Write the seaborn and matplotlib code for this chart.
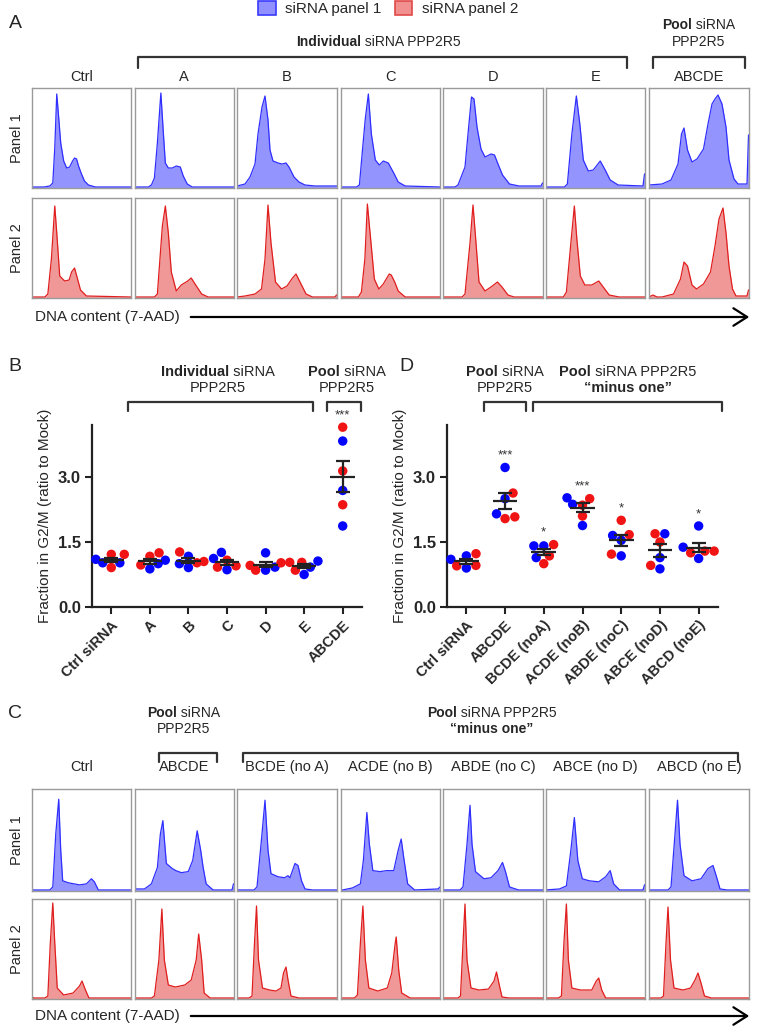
import pandas as pd
import seaborn as sns
import matplotlib
matplotlib.use('Agg')
import matplotlib.pyplot as plt
from matplotlib.lines import Line2D
from matplotlib.patches import Patch, FancyArrowPatch

W, H = 760, 1030

# ---------------- data ----------------
A_LABELS = ['Ctrl', 'A', 'B', 'C', 'D', 'E', 'ABCDE']
C_LABELS = ['Ctrl', 'ABCDE', 'BCDE (no A)', 'ACDE (no B)', 'ABDE (no C)',
            'ABCE (no D)', 'ABCD (no E)']

# histogram outlines: (position in box 0-1, height % of box)
A_PANEL1 = [
    [(0, 1), (0.12, 1), (0.18, 2), (0.21, 5), (0.23, 40), (0.25, 94), (0.27, 70), (0.29, 45), (0.32, 27),
     (0.35, 20), (0.38, 21), (0.41, 27), (0.43, 30), (0.45, 29), (0.47, 22), (0.50, 14), (0.53, 7),
     (0.57, 3), (0.64, 1), (1, 1)],
    [(0, 1), (0.14, 1), (0.17, 3), (0.2, 10), (0.23, 45), (0.265, 95), (0.29, 55), (0.31, 25), (0.34, 20),
     (0.38, 20), (0.42, 22), (0.46, 21), (0.49, 12), (0.53, 4), (0.58, 1), (1, 1)],
    [(0, 2), (0.08, 4), (0.13, 11), (0.18, 24), (0.21, 54), (0.25, 81), (0.28, 92), (0.31, 68), (0.33, 38),
     (0.36, 27), (0.41, 25), (0.45, 24), (0.49, 25), (0.52, 21), (0.57, 11), (0.62, 6), (0.68, 3),
     (0.78, 2), (1, 2)],
    [(0, 1), (0.16, 1), (0.19, 3), (0.22, 37), (0.25, 70), (0.28, 94), (0.31, 54), (0.35, 28), (0.39, 23),
     (0.43, 27), (0.48, 25), (0.535, 15), (0.58, 6), (0.65, 2), (1, 1)],
    [(0, 1), (0.12, 1), (0.15, 3), (0.22, 21), (0.25, 54), (0.285, 91), (0.31, 89), (0.34, 61), (0.38, 39),
     (0.42, 31), (0.48, 34), (0.515, 33), (0.55, 24), (0.595, 13), (0.665, 4), (0.76, 2), (0.98, 2),
     (0.995, 5), (1, 5)],
    [(0, 1), (0.19, 1), (0.22, 4), (0.265, 54), (0.31, 92), (0.345, 64), (0.38, 28), (0.43, 17), (0.48, 18),
     (0.55, 27), (0.60, 18), (0.65, 8), (0.73, 3), (0.98, 2), (0.995, 14), (1, 14)],
    [(0, 3), (0.13, 4), (0.22, 8), (0.29, 24), (0.325, 54), (0.35, 60), (0.385, 38), (0.43, 26), (0.48, 29),
     (0.545, 39), (0.59, 64), (0.63, 84), (0.66, 89), (0.69, 93), (0.73, 84), (0.77, 61), (0.80, 28),
     (0.85, 9), (0.89, 4), (0.98, 4), (0.995, 53), (1, 53)],
]
A_PANEL2 = [
    [(0, 1), (0.13, 1), (0.16, 4), (0.196, 39), (0.23, 92), (0.25, 65), (0.28, 22), (0.33, 17), (0.375, 18),
     (0.40, 26), (0.43, 30), (0.46, 19), (0.49, 8), (0.55, 2), (1, 1)],
    [(0, 1), (0.20, 1), (0.23, 4), (0.28, 72), (0.31, 92), (0.34, 65), (0.37, 26), (0.42, 7), (0.47, 13),
     (0.535, 17), (0.57, 20), (0.615, 13), (0.675, 4), (0.74, 1), (1, 1)],
    [(0, 1), (0.08, 2), (0.18, 4), (0.245, 9), (0.28, 39), (0.31, 93), (0.34, 55), (0.385, 16), (0.445, 9),
     (0.5, 12), (0.555, 20), (0.59, 24), (0.64, 14), (0.69, 4), (0.755, 1), (0.98, 1), (0.995, 3), (1, 3)],
    [(0, 1), (0.18, 1), (0.21, 6), (0.245, 39), (0.27, 94), (0.30, 62), (0.34, 19), (0.385, 9), (0.43, 14),
     (0.49, 24), (0.51, 23), (0.545, 16), (0.58, 7), (0.65, 1), (1, 1)],
    [(0, 1), (0.19, 1), (0.22, 4), (0.27, 55), (0.30, 93), (0.33, 55), (0.36, 16), (0.42, 7), (0.48, 11),
     (0.545, 16), (0.59, 11), (0.65, 3), (0.71, 1), (1, 1)],
    [(0, 1), (0.18, 1), (0.21, 6), (0.255, 55), (0.29, 92), (0.315, 59), (0.35, 22), (0.395, 13),
     (0.465, 13), (0.535, 17), (0.58, 11), (0.64, 3), (0.74, 1), (1, 1)],
    [(0, 1), (0.04, 3), (0.08, 1), (0.13, 1), (0.245, 4), (0.315, 19), (0.35, 36), (0.385, 32), (0.43, 13),
     (0.475, 9), (0.545, 14), (0.615, 26), (0.66, 52), (0.70, 79), (0.74, 90), (0.77, 65), (0.80, 32),
     (0.835, 9), (0.87, 2), (0.98, 2), (0.995, 8), (1, 8)],
]
C_PANEL1 = [
    [(0, 1), (0.18, 1), (0.21, 4), (0.24, 56), (0.27, 90), (0.29, 40), (0.31, 10), (0.37, 8), (0.48, 6),
     (0.55, 7), (0.60, 12), (0.63, 9), (0.67, 1), (1, 1)],
    [(0, 45), (0.01, 2), (0.1, 2), (0.17, 7), (0.23, 23), (0.26, 56), (0.285, 69), (0.32, 27), (0.38, 22),
     (0.415, 20), (0.47, 18), (0.54, 19), (0.585, 30), (0.63, 59), (0.665, 40), (0.69, 23), (0.72, 7),
     (0.79, 1), (0.98, 1), (0.995, 7), (1, 7)],
    [(0, 1), (0.17, 1), (0.2, 4), (0.25, 56), (0.28, 89), (0.31, 40), (0.34, 17), (0.41, 14), (0.475, 13),
     (0.51, 15), (0.53, 13), (0.58, 27), (0.61, 25), (0.645, 10), (0.68, 2), (0.755, 1), (1, 1)],
    [(0, 1), (0.02, 1), (0.12, 3), (0.20, 7), (0.23, 30), (0.265, 77), (0.29, 46), (0.325, 20), (0.395, 19),
     (0.465, 20), (0.535, 20), (0.58, 40), (0.61, 51), (0.635, 33), (0.675, 7), (0.745, 1), (0.98, 2),
     (1, 4)],
    [(0, 1), (0.17, 1), (0.2, 4), (0.24, 46), (0.27, 84), (0.29, 46), (0.325, 19), (0.41, 12), (0.48, 13),
     (0.55, 20), (0.595, 28), (0.625, 19), (0.665, 4), (0.755, 1), (1, 1)],
    [(0, 1), (0.14, 2), (0.21, 5), (0.255, 40), (0.29, 72), (0.325, 30), (0.37, 12), (0.44, 10), (0.535, 9),
     (0.605, 14), (0.65, 20), (0.685, 7), (0.745, 1), (0.98, 1), (0.995, 6), (1, 6)],
    [(0, 1), (0.19, 1), (0.22, 4), (0.26, 56), (0.285, 89), (0.31, 46), (0.35, 15), (0.43, 10), (0.52, 12),
     (0.59, 22), (0.64, 25), (0.675, 14), (0.71, 2), (0.78, 1), (1, 1)],
]
C_PANEL2 = [
    [(0, 2), (0.02, 1), (0.13, 1), (0.16, 3), (0.185, 56), (0.21, 96), (0.23, 56), (0.255, 11), (0.32, 4),
     (0.415, 6), (0.48, 13), (0.505, 18), (0.54, 9), (0.575, 1), (1, 1)],
    [(0, 1), (0.17, 1), (0.2, 3), (0.245, 39), (0.275, 90), (0.30, 39), (0.34, 14), (0.41, 12), (0.505, 14),
     (0.57, 19), (0.62, 39), (0.645, 65), (0.675, 39), (0.70, 6), (0.76, 1), (1, 1)],
    [(0, 1), (0.12, 1), (0.15, 3), (0.175, 56), (0.195, 93), (0.215, 39), (0.255, 11), (0.325, 9), (0.39, 8),
     (0.44, 11), (0.465, 26), (0.49, 32), (0.51, 19), (0.54, 3), (0.62, 1), (1, 1)],
    [(0, 1), (0.14, 1), (0.17, 4), (0.20, 56), (0.225, 93), (0.25, 39), (0.285, 11), (0.375, 8), (0.47, 11),
     (0.515, 26), (0.55, 56), (0.56, 62), (0.585, 29), (0.615, 6), (0.70, 1), (1, 1)],
    [(0, 1), (0.15, 1), (0.175, 3), (0.20, 56), (0.22, 95), (0.24, 39), (0.28, 11), (0.36, 9), (0.455, 10),
     (0.51, 18), (0.535, 27), (0.565, 13), (0.59, 2), (0.66, 1), (1, 1)],
    [(0, 1), (0.13, 1), (0.16, 3), (0.185, 56), (0.21, 95), (0.23, 39), (0.265, 11), (0.35, 9), (0.465, 9),
     (0.51, 18), (0.535, 21), (0.565, 9), (0.605, 1), (1, 1)],
    [(0, 1), (0.12, 1), (0.145, 3), (0.17, 56), (0.19, 92), (0.215, 39), (0.25, 11), (0.34, 9), (0.415, 11),
     (0.46, 19), (0.49, 26), (0.52, 16), (0.555, 3), (0.625, 1), (1, 1)],
]

# fraction in G2/M, ratio to mock (3 replicates per siRNA panel)
B_CONDS = ['Ctrl siRNA', 'A', 'B', 'C', 'D', 'E', 'ABCDE']
B_BLUE = [[1.02, 1.02, 1.10], [0.88, 1.00, 1.08], [1.17, 0.91, 1.00], [1.12, 1.26, 0.86],
          [1.25, 0.85, 0.92], [1.06, 0.75, 0.92], [3.83, 2.69, 1.87]]
B_RED = [[1.215, 0.91, 1.215], [1.17, 1.25, 0.97], [1.27, 1.02, 1.05], [0.92, 1.08, 0.95],
         [1.02, 0.85, 0.96], [1.03, 1.03, 0.85], [4.15, 3.14, 2.36]]
B_STARS = ['', '', '', '', '', '', '***']

D_CONDS = ['Ctrl siRNA', 'ABCDE', 'BCDE (noA)', 'ACDE (noB)', 'ABDE (noC)', 'ABCE (noD)', 'ABCD (noE)']
D_BLUE = [[1.18, 1.10, 0.90], [3.22, 2.50, 2.15], [1.41, 1.41, 1.14], [2.52, 2.37, 1.88],
          [1.65, 1.54, 1.18], [1.69, 1.14, 0.88], [1.87, 1.38, 1.12]]
D_RED = [[1.23, 0.96, 0.95], [2.63, 2.04, 2.08], [1.44, 1.18, 1.00], [2.50, 2.35, 2.10],
         [2.00, 1.67, 1.22], [1.69, 0.96, 1.50], [1.29, 1.29, 1.25]]
D_STARS = ['', '***', '*', '***', '*', '', '*']

# ---------------- style ----------------
BLUE_FILL, BLUE_EDGE = '#9494ff', '#2f2fff'
RED_FILL, RED_EDGE = '#f09898', '#e01e1e'
DOT_BLUE, DOT_RED = '#0505ff', '#f01414'
INK = '#222222'

sns.set_style('white')
plt.rcParams['font.family'] = ['Liberation Sans', 'DejaVu Sans']

fig = plt.figure(figsize=(W / 100, H / 100), dpi=100)
renderer = fig.canvas.get_renderer()

COL_X = [(32, 131), (134.5, 234), (237, 337), (340.5, 440), (443, 543), (545.5, 645), (649, 749)]


def fx(x):
    return x / W


def fy(y):
    return 1 - y / H


def px_axes(x0, y0, x1, y1):
    return fig.add_axes([fx(x0), fy(y1), (x1 - x0) / W, (y1 - y0) / H])


def label(x, y, s, size=10.5, **kw):
    kw.setdefault('ha', 'center')
    kw.setdefault('va', 'center')
    return fig.text(fx(x), fy(y), s, fontsize=size, **kw)


def rich(xc, y, parts, size=10):
    texts = [fig.text(0, fy(y), s, fontsize=size, fontweight=w, ha='left', va='center')
             for s, w in parts]
    widths = [t.get_window_extent(renderer).width for t in texts]
    x = xc - sum(widths) / 2
    for t, wd in zip(texts, widths):
        t.set_x(fx(x))
        x += wd


def bracket(x0, x1, ytop, ybot):
    fig.add_artist(Line2D([fx(x0), fx(x0), fx(x1), fx(x1)], [fy(ybot), fy(ytop), fy(ytop), fy(ybot)],
                          transform=fig.transFigure, color='#333333', lw=1.6))


def dna_arrow(y):
    label(35, y, 'DNA content (7-AAD)', size=11, ha='left')
    fig.add_artist(FancyArrowPatch((fx(188), fy(y)), (fx(752), fy(y)), transform=fig.transFigure,
                                   arrowstyle='->,head_length=0.55,head_width=0.35', mutation_scale=18,
                                   lw=1.6, color='black'))


def draw_hist(ax, knots, fill, edge):
    xs = [k[0] for k in knots]
    ys = [k[1] for k in knots]
    ax.fill_between(xs, ys, 0, color=fill, lw=0)
    sns.lineplot(x=xs, y=ys, ax=ax, color=edge, lw=0.9, estimator=None, sort=False)
    ax.set_xlim(0, 1)
    ax.set_ylim(0, 100)
    ax.set_xticks([])
    ax.set_yticks([])
    ax.set(xlabel='', ylabel='')
    for s in ax.spines.values():
        s.set_visible(True)
        s.set_color('#9a9a9a')
        s.set_linewidth(1.0)


def hist_rows(row1, row2, y1, y2, col_labels, label_y):
    for (x0, x1), lab, h1, h2 in zip(COL_X, col_labels, row1, row2):
        label((x0 + x1) / 2, label_y, lab, size=10.5)
        draw_hist(px_axes(x0, y1[0], x1, y1[1]), h1, BLUE_FILL, BLUE_EDGE)
        draw_hist(px_axes(x0, y2[0], x1, y2[1]), h2, RED_FILL, RED_EDGE)
    label(17, sum(y1) / 2, 'Panel 1', rotation=90)
    label(17, sum(y2) / 2, 'Panel 2', rotation=90)


def dot_panel(ax, conds, blue, red, stars):
    rows = []
    for c, b, r in zip(conds, blue, red):
        rows += [(c, 'Panel 1', v) for v in b]
        rows += [(c, 'Panel 2', v) for v in r]
    df = pd.DataFrame(rows, columns=['cond', 'panel', 'value'])
    sns.swarmplot(data=df, x='cond', y='value', hue='panel', order=conds,
                  hue_order=['Panel 1', 'Panel 2'], palette=[DOT_BLUE, DOT_RED],
                  size=6.8, linewidth=0, legend=False, ax=ax)
    for coll in ax.collections:
        coll.set_clip_on(False)
    stats = df.groupby('cond')['value'].agg(['mean', 'sem', 'max']).reindex(conds)
    for i, (m, se, top) in enumerate(zip(stats['mean'], stats['sem'], stats['max'])):
        ax.hlines(m, i - 0.32, i + 0.32, color=INK, lw=1.6, zorder=5)
        ax.errorbar(i, m, yerr=se, fmt='none', ecolor=INK, elinewidth=1.6, capsize=5,
                    capthick=1.6, zorder=5)
        if stars[i]:
            ax.text(i, top + 0.2, stars[i], ha='center', va='baseline', fontsize=9.5,
                    color='#333333', clip_on=False)
    ax.set_xlim(-0.5, 6.5)
    ax.set_ylim(0, 4.2)
    ax.set_yticks([0, 1.5, 3.0])
    ax.set_yticklabels(['0.0', '1.5', '3.0'], fontweight='bold', fontsize=12)
    ax.set_xticks(range(len(conds)))
    ax.set_xticklabels(conds, rotation=45, ha='right', va='top', rotation_mode='anchor',
                       fontweight='bold', fontsize=10.5)
    ax.set_xlabel('')
    ax.set_ylabel('Fraction in G2/M (ratio to Mock)', fontsize=11, labelpad=4)
    sns.despine(ax=ax)
    for s in ('left', 'bottom'):
        ax.spines[s].set_linewidth(1.6)
        ax.spines[s].set_color(INK)
    ax.tick_params(axis='both', direction='out', length=5, width=1.5, color=INK, pad=3,
                   left=True, bottom=True)


# ---------------- legend ----------------
handles = [Patch(facecolor='#9090ff', edgecolor='#3a3aff', lw=1.2, label='siRNA panel 1'),
           Patch(facecolor='#f29090', edgecolor='#e04a4a', lw=1.2, label='siRNA panel 2')]
fig.legend(handles=handles, loc='upper center', bbox_to_anchor=(fx(388), fy(1)), ncol=2,
           frameon=False, fontsize=11, handlelength=1.15, handleheight=1.0, handletextpad=0.6,
           columnspacing=0.9, borderpad=0, borderaxespad=0)

# ---------------- panel A ----------------
label(15, 23, 'A', size=14)
rich(378, 42, [('Individual', 'bold'), (' siRNA PPP2R5', 'normal')])
rich(699, 25, [('Pool', 'bold'), (' siRNA', 'normal')])
label(699, 42, 'PPP2R5', size=10)
bracket(138, 627, 57, 68)
bracket(653, 745, 57, 68)
hist_rows(A_PANEL1, A_PANEL2, (88, 188), (198, 298), A_LABELS, 77)
dna_arrow(317)

# ---------------- panel B ----------------
label(15, 367, 'B', size=14)
rich(218, 372, [('Individual', 'bold'), (' siRNA', 'normal')], size=10.5)
label(218, 388, 'PPP2R5', size=10.5)
rich(347, 372, [('Pool', 'bold'), (' siRNA', 'normal')], size=10.5)
label(347, 388, 'PPP2R5', size=10.5)
bracket(128, 313, 402, 411)
bracket(327, 361, 402, 411)
dot_panel(px_axes(92, 425, 362, 607), B_CONDS, B_BLUE, B_RED, B_STARS)

# ---------------- panel D ----------------
label(406, 367, 'D', size=14)
rich(505, 372, [('Pool', 'bold'), (' siRNA', 'normal')], size=10.5)
label(505, 388, 'PPP2R5', size=10.5)
rich(628, 372, [('Pool', 'bold'), (' siRNA PPP2R5', 'normal')], size=10.5)
label(628, 388, '\u201cminus one\u201d', size=10.5, fontweight='bold')
bracket(484, 526, 402, 411)
bracket(533, 722, 402, 411)
dot_panel(px_axes(447, 425, 718, 607), D_CONDS, D_BLUE, D_RED, D_STARS)

# ---------------- panel C ----------------
label(15, 713, 'C', size=14)
rich(184, 713, [('Pool', 'bold'), (' siRNA', 'normal')])
label(184, 729, 'PPP2R5', size=10)
rich(492, 713, [('Pool', 'bold'), (' siRNA PPP2R5', 'normal')])
label(492, 729, '\u201cminus one\u201d', size=10, fontweight='bold')
bracket(159, 217, 753, 762)
bracket(243, 738, 753, 762)
hist_rows(C_PANEL1, C_PANEL2, (789, 891), (899, 999), C_LABELS, 767)
dna_arrow(1016)

fig.savefig('out.png', dpi=100)
